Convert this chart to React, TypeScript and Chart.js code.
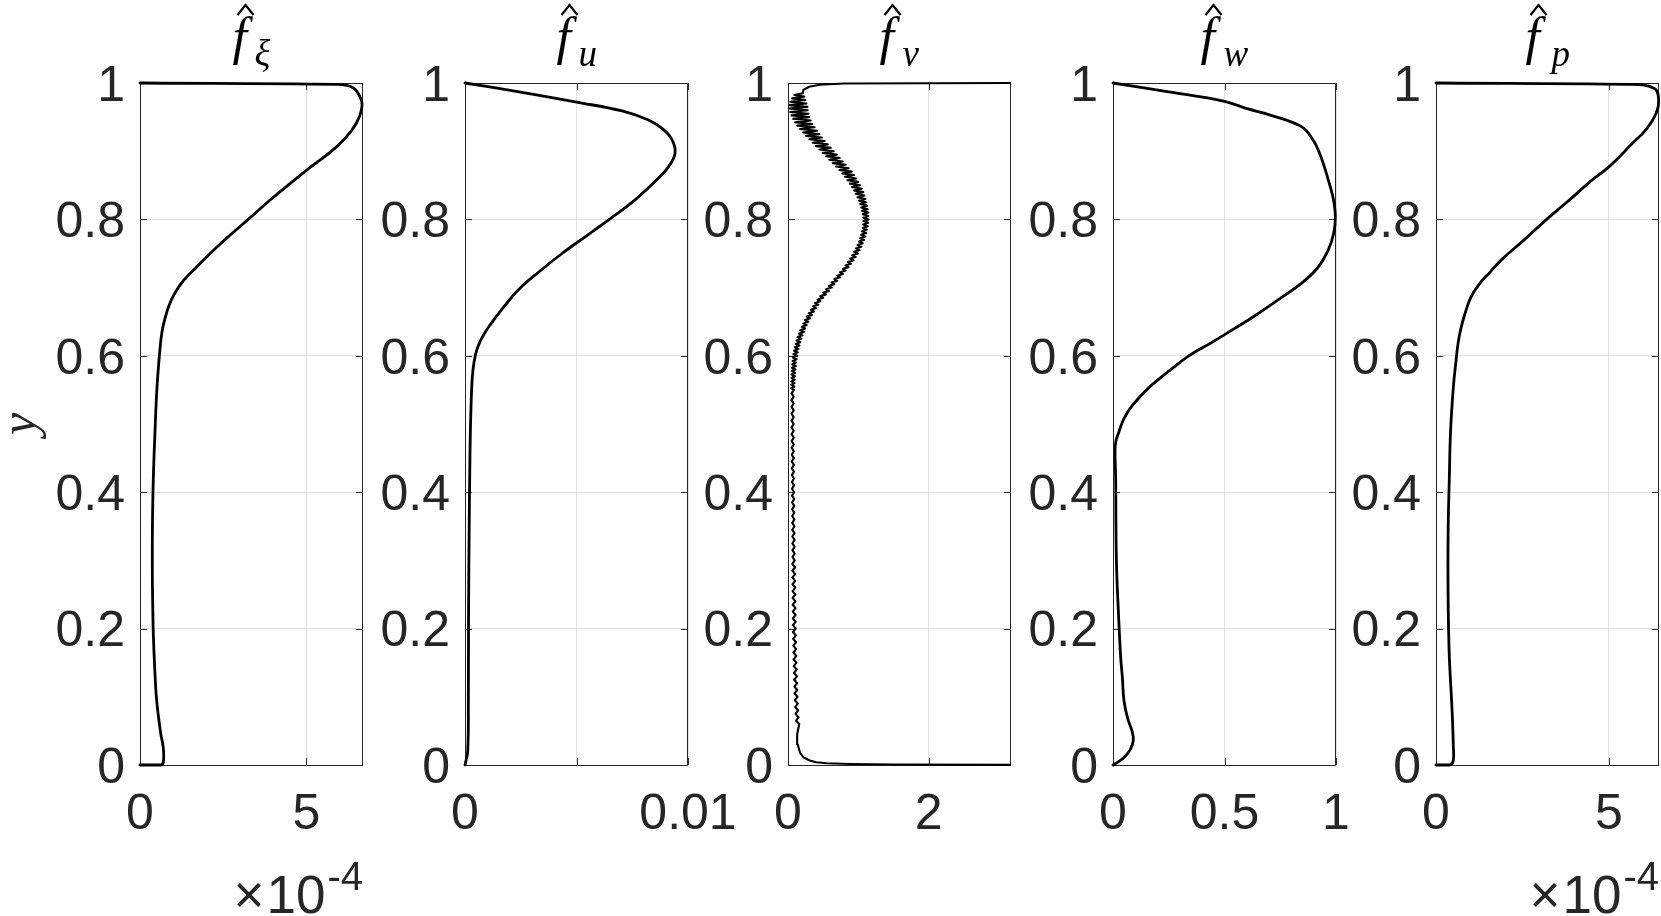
import React, { useEffect, useRef } from 'react';
import { Chart, registerables } from 'chart.js';

Chart.register(...registerables);

// ---------- shared axis data ----------
const Y_TICKS = [0, 0.2, 0.4, 0.6, 0.8, 1];
const Y_TICK_LABELS = ['0', '0.2', '0.4', '0.6', '0.8', '1'];
const SUBSCRIPTS = ['ξ', 'u', 'v', 'w', 'p'];
const Y_LABEL = 'y';
const EXPONENT_TIMES = '×';
const EXPONENT_BASE = '10';
const EXPONENT_POWER = '-4';

// ---------- panel 1: f_xi (x in units of 1e-4) ----------
const fXiY = [0, 0, 0.004, 0.025, 0.047, 0.095, 0.144, 0.193, 0.242, 0.29, 0.357, 0.42, 0.488, 0.553, 0.61, 0.635, 0.655, 0.675, 0.692, 0.71, 0.736, 0.76, 0.78, 0.8, 0.828, 0.855, 0.872, 0.902, 0.921, 0.941, 0.96, 0.975, 0.993, 0.998, 1];
const fXiX = [0, 0.62, 0.70, 0.70, 0.62, 0.50, 0.44, 0.40, 0.38, 0.37, 0.375, 0.40, 0.45, 0.51, 0.60, 0.66, 0.75, 0.88, 1.05, 1.3, 1.82, 2.32, 2.78, 3.25, 3.9, 4.57, 5.0, 5.8, 6.2, 6.5, 6.65, 6.65, 6.4, 5.9, 0];
const fXiTicks = [0, 5];
const fXiTickLabels = ['0', '5'];

// ---------- panel 2: f_u ----------
const fuY = [0, 0.02, 0.095, 0.226, 0.357, 0.42, 0.488, 0.553, 0.58, 0.6, 0.615, 0.63, 0.645, 0.668, 0.697, 0.724, 0.75, 0.776, 0.802, 0.828, 0.855, 0.876, 0.897, 0.917, 0.933, 0.946, 0.959, 0.972, 0.986, 1];
const fuX = [0, 0.00012, 0.00015, 0.00016, 0.00019, 0.00021, 0.00024, 0.0003, 0.00036, 0.00046, 0.0006, 0.00082, 0.00112, 0.00165, 0.0024, 0.00335, 0.00435, 0.00545, 0.00655, 0.0076, 0.0085, 0.0091, 0.00942, 0.00928, 0.00885, 0.0082, 0.00705, 0.005, 0.00262, 0];
const fuTicks = [0, 0.005, 0.01];
const fuTickLabels = ['0', '', '0.01'];

// ---------- panel 3: f_v (oscillating profile) ----------
const fvBottomY = [0, 0.0008, 0.0015, 0.0025, 0.004, 0.0065, 0.011, 0.018, 0.03, 0.045];
const fvBottomX = [3.5, 1.5, 0.88, 0.55, 0.40, 0.31, 0.22, 0.17, 0.14, 0.13];
const fvLowY = [
  0.060, 0.065, 0.070, 0.075, 0.080, 0.085, 0.090, 0.095, 0.100, 0.105,
  0.110, 0.115, 0.120, 0.125, 0.130, 0.135, 0.140, 0.145, 0.150, 0.155,
  0.160, 0.165, 0.170, 0.175, 0.180, 0.185, 0.190, 0.195, 0.200, 0.205,
  0.210, 0.215, 0.220, 0.225, 0.230, 0.235, 0.240, 0.245, 0.250, 0.255,
  0.260, 0.265, 0.270, 0.275, 0.280, 0.285, 0.290, 0.295, 0.300, 0.305,
  0.310, 0.315, 0.320, 0.325, 0.330, 0.335, 0.340, 0.345, 0.350, 0.355,
  0.360, 0.365, 0.370, 0.375, 0.380, 0.385, 0.390, 0.395, 0.400, 0.405,
  0.410, 0.415, 0.420, 0.425, 0.430, 0.435, 0.440, 0.445, 0.450, 0.455,
  0.460, 0.465, 0.470, 0.475, 0.480, 0.485, 0.490, 0.495, 0.500, 0.505,
  0.510, 0.515, 0.520, 0.525, 0.530, 0.535, 0.540, 0.545,
];
const fvLowX = [
  0.160, 0.115, 0.150, 0.107, 0.145, 0.102, 0.140, 0.097, 0.135, 0.093,
  0.132, 0.091, 0.130, 0.088, 0.127, 0.085, 0.124, 0.082, 0.120, 0.079,
  0.118, 0.077, 0.116, 0.075, 0.114, 0.073, 0.112, 0.071, 0.110, 0.070,
  0.109, 0.069, 0.108, 0.068, 0.107, 0.067, 0.106, 0.066, 0.105, 0.065,
  0.104, 0.064, 0.103, 0.063, 0.102, 0.062, 0.101, 0.061, 0.095, 0.065,
  0.094, 0.064, 0.093, 0.063, 0.093, 0.062, 0.092, 0.061, 0.091, 0.061,
  0.090, 0.060, 0.089, 0.059, 0.089, 0.058, 0.088, 0.057, 0.087, 0.057,
  0.086, 0.056, 0.085, 0.055, 0.085, 0.054, 0.084, 0.053, 0.083, 0.053,
  0.083, 0.052, 0.082, 0.052, 0.082, 0.052, 0.081, 0.051, 0.081, 0.051,
  0.081, 0.051, 0.081, 0.051, 0.080, 0.050, 0.080, 0.050,
];
const fvUpY = [
  0.5500, 0.5525, 0.5550, 0.5575, 0.5600, 0.5625, 0.5650, 0.5675,
  0.5700, 0.5725, 0.5750, 0.5775, 0.5800, 0.5825, 0.5850, 0.5875,
  0.5900, 0.5925, 0.5950, 0.5975, 0.6000, 0.6025, 0.6050, 0.6075,
  0.6100, 0.6125, 0.6150, 0.6175, 0.6200, 0.6225, 0.6250, 0.6275,
  0.6300, 0.6325, 0.6350, 0.6375, 0.6400, 0.6425, 0.6450, 0.6475,
  0.6500, 0.6525, 0.6550, 0.6575, 0.6600, 0.6625, 0.6650, 0.6675,
  0.6700, 0.6725, 0.6750, 0.6775, 0.6800, 0.6825, 0.6850, 0.6875,
  0.6900, 0.6925, 0.6950, 0.6975, 0.7000, 0.7025, 0.7050, 0.7075,
  0.7100, 0.7125, 0.7150, 0.7175, 0.7200, 0.7225, 0.7250, 0.7275,
  0.7300, 0.7325, 0.7350, 0.7375, 0.7400, 0.7425, 0.7450, 0.7475,
  0.7500, 0.7525, 0.7550, 0.7575, 0.7600, 0.7625, 0.7650, 0.7675,
  0.7700, 0.7725, 0.7750, 0.7775, 0.7800, 0.7825, 0.7850, 0.7875,
  0.7900, 0.7925, 0.7950, 0.7975, 0.8000, 0.8025, 0.8050, 0.8075,
  0.8100, 0.8125, 0.8150, 0.8175, 0.8200, 0.8225, 0.8250, 0.8275,
  0.8300, 0.8325, 0.8350, 0.8375, 0.8400, 0.8425, 0.8450, 0.8475,
  0.8500, 0.8525, 0.8550, 0.8575, 0.8600, 0.8625, 0.8650, 0.8675,
  0.8700, 0.8725, 0.8750, 0.8775, 0.8800, 0.8825, 0.8850, 0.8875,
  0.8900, 0.8925, 0.8950, 0.8975, 0.9000, 0.9025, 0.9050, 0.9075,
  0.9100, 0.9125, 0.9150, 0.9175, 0.9200, 0.9225, 0.9250, 0.9275,
  0.9300, 0.9325, 0.9350, 0.9375, 0.9400, 0.9425, 0.9450, 0.9475,
  0.9500, 0.9525, 0.9550, 0.9575, 0.9600, 0.9625, 0.9650, 0.9675,
  0.9700, 0.9725, 0.9750, 0.9775, 0.9800, 0.9825, 0.9850,
];
const fvUpX = [
  0.0850, 0.0458, 0.0885, 0.0473, 0.0920, 0.0485, 0.0960, 0.0495,
  0.1000, 0.0513, 0.1025, 0.0538, 0.1050, 0.0575, 0.1100, 0.0625,
  0.1150, 0.0667, 0.1215, 0.0702, 0.1280, 0.0770, 0.1380, 0.0870,
  0.1480, 0.0978, 0.1615, 0.1093, 0.1750, 0.1225, 0.1900, 0.1375,
  0.2050, 0.1550, 0.2250, 0.1750, 0.2450, 0.1963, 0.2675, 0.2188,
  0.2900, 0.2425, 0.3150, 0.2675, 0.3400, 0.2950, 0.3700, 0.3250,
  0.4000, 0.3550, 0.4300, 0.3850, 0.4600, 0.4200, 0.5000, 0.4600,
  0.5400, 0.5000, 0.5800, 0.5400, 0.6200, 0.5800, 0.6600, 0.6200,
  0.7000, 0.6600, 0.7400, 0.7000, 0.7800, 0.7400, 0.8200, 0.7800,
  0.8600, 0.8170, 0.8960, 0.8510, 0.9320, 0.8830, 0.9620, 0.9130,
  0.9920, 0.9405, 1.0170, 0.9655, 1.0420, 0.9880, 1.0620, 1.0080,
  1.0820, 1.0255, 1.0970, 1.0405, 1.1120, 1.0527, 1.1225, 1.0622,
  1.1330, 1.0690, 1.1390, 1.0730, 1.1450, 1.0715, 1.1425, 1.0635,
  1.1400, 1.0540, 1.1325, 1.0410, 1.1250, 1.0265, 1.1125, 1.0085,
  1.1000, 0.9875, 1.0850, 0.9625, 1.0700, 0.9365, 1.0475, 0.9085,
  1.0250, 0.8790, 0.9975, 0.8460, 0.9700, 0.8115, 0.9375, 0.7735,
  0.9050, 0.7315, 0.8625, 0.6835, 0.8200, 0.6365, 0.7775, 0.5885,
  0.7350, 0.5415, 0.6925, 0.4935, 0.6500, 0.4465, 0.6075, 0.3985,
  0.5650, 0.3515, 0.5225, 0.3035, 0.4800, 0.2575, 0.4450, 0.2125,
  0.4100, 0.1715, 0.3775, 0.1335, 0.3450, 0.1015, 0.3225, 0.0735,
  0.3000, 0.0500, 0.2900, 0.0300, 0.2800, 0.0175, 0.2750, 0.0175,
  0.2600, 0.0325, 0.2450, 0.0575, 0.2300, 0.0900, 0.2100,
];
const fvTopY = [0.99, 0.9945, 0.9975, 0.9993, 1];
const fvTopX = [0.22, 0.30, 0.45, 0.8, 3.5];
const fvTicks = [0, 2];
const fvTickLabels = ['0', '2'];

// ---------- panel 4: f_w ----------
const fwY = [0, 0.0098, 0.023, 0.036, 0.049, 0.069, 0.095, 0.128, 0.16, 0.226, 0.29, 0.357, 0.42, 0.462, 0.475, 0.488, 0.508, 0.527, 0.553, 0.58, 0.6, 0.619, 0.638, 0.658, 0.682, 0.705, 0.728, 0.755, 0.78, 0.805, 0.83, 0.855, 0.877, 0.898, 0.916, 0.936, 0.954, 0.962, 0.973, 0.987, 1];
const fwX = [0, 0.046, 0.078, 0.091, 0.086, 0.065, 0.049, 0.042, 0.034, 0.024, 0.016, 0.013, 0.012, 0.009, 0.013, 0.026, 0.049, 0.086, 0.16, 0.26, 0.34, 0.44, 0.535, 0.633, 0.74, 0.84, 0.915, 0.965, 0.99, 0.997, 0.988, 0.968, 0.948, 0.925, 0.898, 0.845, 0.695, 0.605, 0.5, 0.25, 0];
const fwTicks = [0, 0.5, 1];
const fwTickLabels = ['0', '0.5', '1'];

// ---------- panel 5: f_p (x in units of 1e-4) ----------
const fpY = [0, 0, 0.0065, 0.029, 0.062, 0.095, 0.16, 0.226, 0.29, 0.357, 0.42, 0.488, 0.553, 0.593, 0.619, 0.64, 0.662, 0.685, 0.705, 0.722, 0.741, 0.77, 0.8, 0.828, 0.855, 0.877, 0.912, 0.932, 0.956, 0.975, 0.992, 0.998, 1];
const fpX = [0, 0.40, 0.50, 0.50, 0.48, 0.45, 0.385, 0.355, 0.346, 0.355, 0.385, 0.42, 0.50, 0.58, 0.64, 0.72, 0.84, 1.0, 1.25, 1.55, 1.9, 2.55, 3.2, 3.85, 4.45, 5.0, 5.69, 6.08, 6.37, 6.44, 6.32, 5.6, 0];
const fpTicks = [0, 5];
const fpTickLabels = ['0', '5'];

// ---------- layout / style ----------
const W = 1661;
const H = 916;
const PLOT_TOP = 83;
const PLOT_BOTTOM = 765;
const PLOT_W = 223;
const TICK_LEN = 7;
const AXIS_COLOR = '#262626';
const GRID_COLOR = '#e2e2e2';
const SANS = '"Liberation Sans", Arial, Helvetica, sans-serif';
const SERIF = '"Liberation Serif", "Times New Roman", serif';

type Panel = {
  xs: number[];
  ys: number[];
  xMax: number;
  ticks: number[];
  tickLabels: string[];
  left: number;
  yW: number;
  rightPad: number;
  tension: number;
  lineWidth: number;
  clipRight: number;
  exponent: boolean;
  yLabel: boolean;
};

const PANELS: Panel[] = [
  { xs: fXiX, ys: fXiY, xMax: 6.7, ticks: fXiTicks, tickLabels: fXiTickLabels, left: 140, yW: 140, rightPad: 60, tension: 0.4, lineWidth: 2.8, clipRight: 3, exponent: true, yLabel: true },
  { xs: fuX, ys: fuY, xMax: 0.01, ticks: fuTicks, tickLabels: fuTickLabels, left: 465, yW: 110, rightPad: 60, tension: 0.4, lineWidth: 2.8, clipRight: 3, exponent: false, yLabel: false },
  { xs: [...fvBottomX, ...fvLowX, ...fvUpX, ...fvTopX], ys: [...fvBottomY, ...fvLowY, ...fvUpY, ...fvTopY], xMax: 3.17, ticks: fvTicks, tickLabels: fvTickLabels, left: 788, yW: 110, rightPad: 60, tension: 0, lineWidth: 2.1, clipRight: 0, exponent: false, yLabel: false },
  { xs: fwX, ys: fwY, xMax: 1, ticks: fwTicks, tickLabels: fwTickLabels, left: 1113, yW: 110, rightPad: 60, tension: 0.4, lineWidth: 2.8, clipRight: 3, exponent: false, yLabel: false },
  { xs: fpX, ys: fpY, xMax: 6.45, ticks: fpTicks, tickLabels: fpTickLabels, left: 1436, yW: 110, rightPad: 2, tension: 0.4, lineWidth: 2.8, clipRight: 3, exponent: true, yLabel: false },
];

function decorPlugin(p: Panel, idx: number) {
  return {
    id: 'decor' + idx,
    beforeDatasetsDraw(chart: any) {
      const { ctx, chartArea: a, scales } = chart;
      ctx.save();
      ctx.strokeStyle = AXIS_COLOR;
      ctx.lineWidth = 1;
      ctx.beginPath();
      for (const v of Y_TICKS) {
        const y = Math.round(scales.y.getPixelForValue(v)) + 0.5;
        ctx.moveTo(a.left, y);
        ctx.lineTo(a.left + TICK_LEN, y);
        ctx.moveTo(a.right, y);
        ctx.lineTo(a.right - TICK_LEN, y);
      }
      for (const v of p.ticks) {
        const x = Math.round(scales.x.getPixelForValue(v)) + 0.5;
        ctx.moveTo(x, a.bottom);
        ctx.lineTo(x, a.bottom - TICK_LEN);
        ctx.moveTo(x, a.top);
        ctx.lineTo(x, a.top + TICK_LEN);
      }
      ctx.stroke();
      ctx.strokeRect(Math.round(a.left) + 0.5, Math.round(a.top) + 0.5, Math.round(a.right - a.left) - 1, Math.round(a.bottom - a.top));
      ctx.restore();
    },
    afterDraw(chart: any) {
      const { ctx, chartArea: a } = chart;
      ctx.save();
      ctx.fillStyle = '#000';
      ctx.strokeStyle = '#000';
      ctx.textAlign = 'left';
      ctx.textBaseline = 'alphabetic';
      // title: f-hat with subscript
      const cx = (a.left + a.right) / 2;
      const fFont = `italic 52px ${SERIF}`;
      const sFont = `italic 37px ${SERIF}`;
      ctx.font = fFont;
      const fm = ctx.measureText('f');
      const fLeft = fm.actualBoundingBoxLeft;
      const fRight = fm.actualBoundingBoxRight;
      const fW = fLeft + fRight;
      ctx.font = sFont;
      const sm = ctx.measureText(SUBSCRIPTS[idx]);
      const sW = sm.actualBoundingBoxLeft + sm.actualBoundingBoxRight;
      const gap = 2;
      const total = fW + gap + sW;
      const x0 = cx - total / 2;
      ctx.font = fFont;
      ctx.fillText('f', x0 + fLeft, 54);
      ctx.lineWidth = 2.2;
      ctx.lineJoin = 'miter';
      ctx.beginPath();
      const hx = x0 + fW * 0.62;
      ctx.moveTo(hx - 8, 15);
      ctx.lineTo(hx, 5);
      ctx.lineTo(hx + 8, 15);
      ctx.stroke();
      ctx.font = sFont;
      ctx.fillText(SUBSCRIPTS[idx], x0 + fW + gap + sm.actualBoundingBoxLeft, 66);

      if (p.exponent) {
        ctx.fillStyle = AXIS_COLOR;
        ctx.font = `40px ${SANS}`;
        const pw = ctx.measureText(EXPONENT_POWER).width;
        const px = a.right - pw;
        ctx.fillText(EXPONENT_POWER, px, 890);
        ctx.font = `53px ${SANS}`;
        const bw = ctx.measureText(EXPONENT_BASE).width;
        const bx = px - 2 - bw;
        ctx.fillText(EXPONENT_BASE, bx, 913);
        const tw = ctx.measureText(EXPONENT_TIMES).width;
        ctx.fillText(EXPONENT_TIMES, bx - 2 - tw, 913);
      }
      if (p.yLabel) {
        ctx.fillStyle = AXIS_COLOR;
        ctx.font = `italic 50px ${SERIF}`;
        ctx.translate(22, 424);
        ctx.rotate(-Math.PI / 2);
        ctx.textAlign = 'center';
        ctx.textBaseline = 'middle';
        ctx.fillText(Y_LABEL, 0, 0);
      }
      ctx.restore();
    },
  };
}

function buildConfig(p: Panel, idx: number): any {
  return {
    type: 'scatter',
    data: {
      datasets: [
        {
          data: p.xs.map((x, i) => ({ x, y: p.ys[i] })),
          showLine: true,
          borderColor: '#000',
          borderWidth: p.lineWidth,
          borderJoinStyle: 'round',
          borderCapStyle: 'round',
          pointRadius: 0,
          pointHoverRadius: 0,
          fill: false,
          tension: p.tension,
          clip: { left: 4, top: 4, right: p.clipRight, bottom: 4 },
        },
      ],
    },
    options: {
      responsive: false,
      animation: false,
      devicePixelRatio: 1,
      events: [],
      layout: { padding: { left: 0, top: PLOT_TOP, right: p.rightPad, bottom: 0 } },
      plugins: { legend: { display: false }, tooltip: { enabled: false }, title: { display: false } },
      scales: {
        x: {
          type: 'linear',
          min: 0,
          max: p.xMax,
          afterBuildTicks: (s: any) => {
            s.ticks = p.ticks.map((v) => ({ value: v }));
          },
          afterFit: (s: any) => {
            s.height = H - PLOT_BOTTOM;
            s.paddingLeft = 0;
            s.paddingRight = 0;
          },
          ticks: {
            callback: (_v: any, i: number) => p.tickLabels[i],
            autoSkip: false,
            maxRotation: 0,
            minRotation: 0,
            padding: 20,
            color: AXIS_COLOR,
            font: { family: SANS, size: 50 },
          },
          grid: { color: GRID_COLOR, drawTicks: false, lineWidth: 1 },
          border: { display: false },
        },
        y: {
          type: 'linear',
          min: 0,
          max: 1,
          afterBuildTicks: (s: any) => {
            s.ticks = Y_TICKS.map((v) => ({ value: v }));
          },
          afterFit: (s: any) => {
            s.width = p.yW;
            s.paddingTop = 0;
            s.paddingBottom = 0;
          },
          ticks: {
            callback: (_v: any, i: number) => Y_TICK_LABELS[i],
            autoSkip: false,
            padding: 15,
            labelOffset: 4,
            color: AXIS_COLOR,
            font: { family: SANS, size: 50 },
          },
          grid: { color: GRID_COLOR, drawTicks: false, lineWidth: 1 },
          border: { display: false },
        },
      },
    },
    plugins: [decorPlugin(p, idx)],
  };
}

export default function App() {
  const refs = useRef<(HTMLCanvasElement | null)[]>([]);
  useEffect(() => {
    const charts = PANELS.map((p, i) => new Chart(refs.current[i] as HTMLCanvasElement, buildConfig(p, i)));
    return () => {
      charts.forEach((c) => c.destroy());
    };
  }, []);
  return (
    <div style={{ position: 'fixed', left: 0, top: 0, width: W, height: H, background: '#fff', overflow: 'hidden' }}>
      {PANELS.map((p, i) => {
        const cw = p.yW + PLOT_W + p.rightPad;
        return (
          <canvas
            key={i}
            ref={(el) => {
              refs.current[i] = el;
            }}
            width={cw}
            height={H}
            style={{ position: 'absolute', left: p.left - p.yW, top: 0, width: cw, height: H }}
          />
        );
      })}
    </div>
  );
}
